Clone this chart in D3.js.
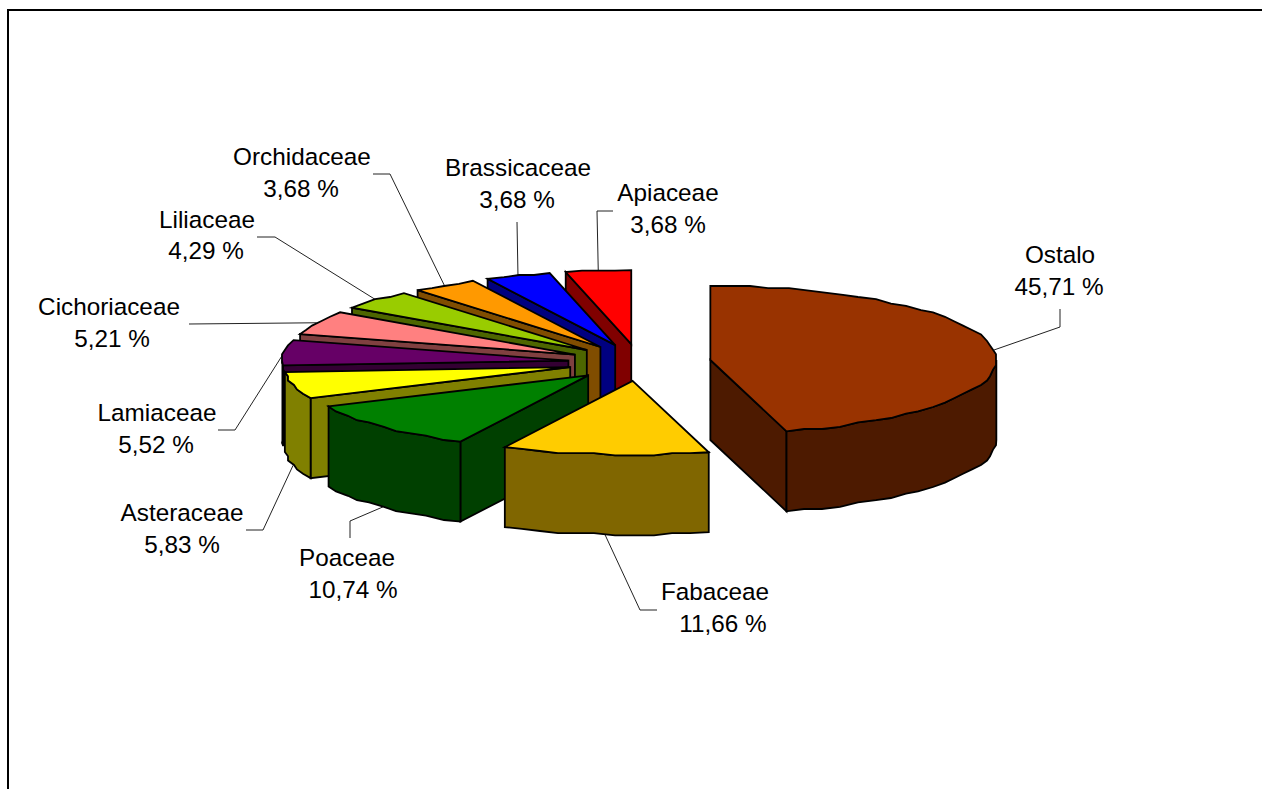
<!DOCTYPE html>
<html lang="en">
<head>
  <meta charset="UTF-8">
  <title>Families share</title>
  <script src="https://d3js.org/d3.v7.min.js"></script>
  <style>
    html, body {
      margin: 0;
      background: #fff;
      overflow: hidden;
    }

    svg {
      display: block;
    }

    .label {
      font-family: "Liberation Sans", Arial, sans-serif;
      font-size: 24.3px;
      fill: #000;
    }

    .leader {
      fill: none;
      stroke: #222;
      stroke-width: 1;
    }

    .face {
      stroke: #000;
      stroke-width: 1.8;
      stroke-linejoin: miter;
    }
  </style>
</head>
<body>
  <svg width="1262" height="789"></svg>

  <script>
    // data, clockwise from 12 o'clock
    const families = ["Ostalo", "Fabaceae", "Poaceae", "Asteraceae", "Lamiaceae", "Cichoriaceae", "Liliaceae", "Orchidaceae", "Brassicaceae", "Apiaceae"];
    const shares = [45.71, 11.66, 10.74, 5.83, 5.52, 5.21, 4.29, 3.68, 3.68, 3.68];
    const topColors = ["#993300", "#ffcc00", "#008000", "#ffff00", "#660066", "#ff8080", "#99cc00", "#ff9900", "#0000ff", "#ff0000"];
    const wallColors = ["#4d1a00", "#806600", "#004000", "#808000", "#330033", "#804040", "#4d6600", "#804d00", "#000080", "#800000"];

    // label placement: [name x, name baseline, value x, value baseline]
    const labelSpots = [
      [1060, 263, 1059, 295], [715, 600, 723, 632], [347, 566, 353, 598], [182, 521, 182, 553], [157, 421, 156, 453],
      [109, 315, 112, 347], [207, 228, 206, 259], [302, 165, 301, 197], [518, 176, 517, 208], [668, 201, 668, 233]
    ];
    // leader elbows, running from the label towards the slice
    const leaderElbows = [
      [[1060, 309], [1060, 327]], [[657, 610], [640, 610]], [[350, 538], [350, 521]], [[246, 530], [263, 530]], [[218, 430], [235, 430]],
      [[189, 324]], [[257, 237], [275, 237]], [[373, 174], [390, 174]], [[517, 222]], [[613, 211], [597, 211]]
    ];

    const cx = 639.5, cy = 362.5, rx = 286, ry = 74, depth = 80, explode = 0.25;

    const svg = d3.select("svg");

    // chart frame runs off the page on the right and at the bottom
    svg.append("rect")
      .attr("x", 8).attr("y", 10)
      .attr("width", 1300).attr("height", 900)
      .attr("fill", "none").attr("stroke", "#000").attr("stroke-width", 2);

    const sx = d3.scaleLinear().domain([-1, 1]).range([-rx, rx]);
    const sy = d3.scaleLinear().domain([-1, 1]).range([ry, -ry]);

    const slices = d3.pie().sort(null).value(d => d)(shares).map((s, i) => {
      const mid = (s.startAngle + s.endAngle) / 2;
      return {
        i,
        a0: s.startAngle,
        a1: s.endAngle,
        mid,
        x: cx + explode * sx(Math.sin(mid)),
        y: cy + explode * sy(Math.cos(mid))
      };
    });

    const rim = (s, a) => [s.x + sx(Math.sin(a)), s.y + sy(Math.cos(a))];
    const down = p => [p[0], p[1] + depth];
    const line = d3.line();

    // the source chart has a slightly bumpy rim, snapping to a coarse grid gets close to that
    const snap = p => [Math.round(p[0] / 3) * 3, Math.round(p[1] / 2.2) * 2.2];
    function arcPoints(s, a0, a1) {
      const n = Math.max(2, Math.ceil((a1 - a0) / 0.07));
      return d3.range(n + 1).map(k => {
        const a = a0 + (a1 - a0) * k / n;
        return k === 0 || k === n ? rim(s, a) : snap(rim(s, a));
      });
    }

    const layer = svg.append("g");

    // leaders go under the slices
    slices.forEach(s => {
      let end = rim(s, s.mid);
      if (s.mid > Math.PI / 2 && s.mid < 1.5 * Math.PI) end = down(end);
      svg.insert("path", "g")
        .attr("class", "leader")
        .attr("d", line([...leaderElbows[s.i], end]));
    });

    // back to front, so Apiaceae first and Ostalo last
    slices.slice().reverse().forEach(s => {
      const g = layer.append("g");
      const wall = wallColors[s.i];
      const centre = [s.x, s.y];

      const radial = a => {
        const p = rim(s, a);
        g.append("path").attr("class", "face").attr("fill", wall)
          .attr("d", line([centre, p, down(p), down(centre)]) + "Z");
      };
      if (s.a0 > Math.PI) radial(s.a0);
      if (s.a1 < Math.PI) radial(s.a1);

      const f0 = Math.max(s.a0, Math.PI / 2), f1 = Math.min(s.a1, 1.5 * Math.PI);
      if (f1 > f0) {
        const upper = arcPoints(s, f0, f1);
        const lower = upper.map(down).reverse();
        g.append("path").attr("class", "face").attr("fill", wall)
          .attr("d", line([...upper, ...lower]) + "Z");
      }

      g.append("path").attr("class", "face").attr("fill", topColors[s.i])
        .attr("d", line([centre, ...arcPoints(s, s.a0, s.a1)]) + "Z");
    });

    families.forEach((name, i) => {
      const [nx, ny, vx, vy] = labelSpots[i];
      svg.append("text").attr("class", "label").attr("x", nx).attr("y", ny)
        .attr("text-anchor", "middle").text(name);
      svg.append("text").attr("class", "label").attr("x", vx).attr("y", vy)
        .attr("text-anchor", "middle").text(shares[i].toFixed(2).replace(".", ",") + " %");
    });
  </script>
</body>
</html>
